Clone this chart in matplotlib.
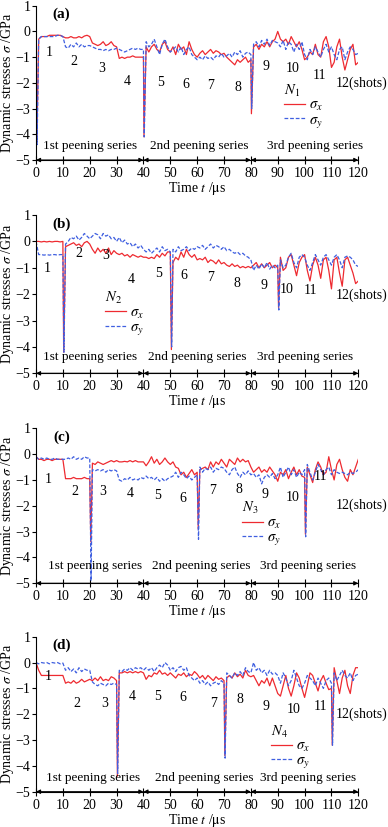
import numpy as np
import matplotlib
matplotlib.use("Agg")
import matplotlib.pyplot as plt

plt.rcParams['font.family'] = ['Liberation Serif', 'DejaVu Serif']
plt.rcParams['mathtext.fontset'] = 'stix'
plt.rcParams['axes.unicode_minus'] = True

RED = '#ee2a30'
BLUE = '#3f5fe0'

# time grid of the read-off samples (us)
t_grid = np.arange(0, 121)

# ---- panel (a), point N1 ----
a_sx = [0.0, -0.3, -0.2, -0.2, -0.2, -0.15, -0.15, -0.15, -0.15, -0.15,
        -0.2, -0.25, -0.25, -0.2, -0.25, -0.25, -0.2, -0.25, -0.18, -0.15,
        -0.2, -0.45, -0.5, -0.55, -0.5, -0.4, -0.55, -0.5, -0.4, -0.55,
        -0.6, -1.05, -1.0, -1.05, -1.0, -1.0, -0.95, -1.0, -1.0, -1.0,
        -1.0, -0.6, -0.8, -0.6, -0.5, -0.7, -0.8, -0.5, -0.4, -0.7,
        -0.8, -0.6, -0.9, -0.5, -0.7, -0.6, -0.9, -0.4, -0.7, -0.9,
        -1.0, -0.85, -0.75, -0.9, -0.8, -0.7, -0.85, -0.75, -0.8, -0.9,
        -0.85, -1.0, -1.1, -1.2, -1.3, -1.1, -1.2, -1.1, -1.0, -1.2,
        -1.1, -0.6, -0.5, -0.7, -0.5, -0.6, -0.4, -0.6, -0.4, -0.3,
        0.0, -0.3, -0.4, -0.3, -0.5, -0.2, -0.4, -0.6, -0.4, -0.7,
        -1.1, -1.0, -0.8, -0.9, -0.5, -0.9, -1.0, -0.4, -0.2, -0.6,
        -1.4, -1.2, -0.6, -0.3, -1.0, -1.5, -1.1, -0.7, -0.5, -1.3, -1.2]
a_sy = [0.0, -0.3, -0.2, -0.2, -0.2, -0.2, -0.2, -0.2, -0.15, -0.15,
        -0.2, -0.6, -0.65, -0.5, -0.6, -0.45, -0.6, -0.5, -0.6, -0.55,
        -0.55, -0.6, -0.65, -0.7, -0.7, -0.75, -0.7, -0.75, -0.7, -0.7,
        -0.65, -0.7, -0.75, -0.8, -0.75, -0.7, -0.65, -0.7, -0.65, -0.7,
        -0.7, -0.4, -0.6, -0.5, -0.3, -0.6, -0.9, -0.5, -0.3, -0.6,
        -0.8, -0.7, -0.6, -0.8, -0.6, -0.9, -0.7, -0.6, -0.9, -1.0,
        -1.1, -1.0, -1.1, -0.95, -1.05, -1.0, -1.1, -0.95, -1.0, -0.85,
        -1.0, -0.95, -0.85, -1.0, -0.8, -0.9, -0.75, -1.0, -0.85, -0.8,
        -0.9, -0.5, -0.4, -0.6, -0.35, -0.5, -0.3, -0.55, -0.35, -0.4,
        -0.45, -0.6, -0.35, -0.7, -0.4, -0.5, -0.8, -0.5, -0.7, -0.4,
        -0.9, -1.1, -0.7, -0.9, -0.6, -0.8, -1.0, -0.7, -0.5, -0.8,
        -0.6, -0.9, -1.1, -0.7, -0.6, -1.1, -0.8, -0.6, -0.7, -0.9, -0.85]
a_spike_t = [0.3, 40.2, 80.2]
a_spike_x = [-4.3, -4.1, -3.2]
a_spike_y = [-4.4, -4.1, -3.0]

# ---- panel (b), point N2 ----
b_sx = [0.0, 0.0, -0.02, 0.0, -0.02, 0.0, -0.02, 0.0, 0.0, -0.02,
        0.0, -0.2, -0.15, -0.1, -0.05, -0.15, -0.1, -0.2, -0.05, 0.0,
        -0.1, -0.3, -0.45, -0.25, -0.4, -0.3, -0.45, -0.25, -0.5, -0.35,
        -0.45, -0.5, -0.45, -0.55, -0.5, -0.6, -0.5, -0.55, -0.6, -0.55,
        -0.6, -0.6, -0.65, -0.6, -0.65, -0.5, -0.6, -0.45, -0.55, -0.4,
        -0.4, -0.8, -0.6, -0.7, -0.4, -0.6, -0.3, -0.5, -0.6, -0.5,
        -0.7, -0.65, -0.7, -0.6, -0.8, -0.7, -0.75, -0.85, -0.7, -0.85,
        -0.8, -0.9, -0.95, -0.85, -0.95, -0.9, -1.0, -0.95, -1.0, -0.95,
        -1.0, -0.9, -0.8, -1.0, -0.85, -1.0, -0.9, -0.8, -1.0, -0.9,
        -1.0, -0.6, -1.1, -1.0, -0.6, -0.5, -0.9, -1.3, -0.8, -0.6,
        -0.5, -1.1, -1.5, -0.9, -0.6, -0.9, -1.4, -0.7, -0.6, -1.1,
        -1.8, -0.7, -0.6, -1.2, -1.7, -0.7, -0.6, -0.9, -1.2, -1.6, -1.5]
b_sy = [0.0, -0.5, -0.5, -0.52, -0.5, -0.52, -0.5, -0.5, -0.52, -0.5,
        -0.5, -0.1, 0.0, 0.15, 0.1, 0.2, 0.05, 0.15, 0.3, 0.2,
        0.1, 0.2, 0.3, 0.25, 0.1, 0.3, 0.2, 0.25, 0.1, 0.15,
        0.0, 0.15, -0.05, 0.05, -0.1, -0.05, -0.2, -0.1, -0.25, -0.15,
        -0.3, -0.4, -0.3, -0.45, -0.35, -0.25, -0.4, -0.2, -0.35, -0.3,
        -0.4, -0.3, -0.4, -0.2, -0.35, -0.3, -0.2, -0.35, -0.25, -0.3,
        -0.2, -0.25, -0.15, -0.3, -0.2, -0.1, -0.25, -0.15, -0.2, -0.3,
        -0.2, -0.35, -0.3, -0.4, -0.45, -0.4, -0.5, -0.45, -0.55, -0.6,
        -0.7, -1.1, -0.9, -1.05, -0.85, -1.0, -0.8, -1.05, -0.9, -1.0,
        -0.9, -0.7, -1.0, -0.9, -0.6, -0.45, -0.8, -1.0, -0.6, -0.5,
        -0.6, -0.9, -1.1, -0.8, -0.5, -0.7, -0.9, -0.6, -0.5, -0.7,
        -0.9, -0.6, -0.5, -0.7, -1.0, -0.6, -0.55, -0.6, -0.7, -0.9, -0.95]
b_spike_t = [10.3, 50.4, 90.3]
b_spike_x = [-4.2, -4.1, -2.5]
b_spike_y = [-4.2, -4.0, -2.6]

# ---- panel (c), point N3 ----
c_sx = [-0.1, -0.2, -0.2, -0.25, -0.2, -0.2, -0.25, -0.2, -0.2, -0.2,
        -0.2, -0.95, -0.95, -0.95, -0.9, -0.95, -0.95, -0.95, -0.9, -0.95,
        -0.95, -0.35, -0.4, -0.3, -0.35, -0.4, -0.35, -0.3, -0.25, -0.3,
        -0.25, -0.3, -0.3, -0.28, -0.3, -0.25, -0.3, -0.25, -0.3, -0.3,
        -0.3, -0.45, -0.3, -0.1, -0.35, -0.2, -0.4, -0.3, -0.15, -0.3,
        -0.4, -0.3, -0.5, -0.55, -0.8, -0.7, -0.9, -0.75, -0.6, -0.8,
        -0.7, -0.6, -0.55, -0.5, -0.6, -0.3, -0.5, -0.3, -0.4, -0.2,
        -0.35, -0.5, -0.2, -0.3, -0.4, -0.15, -0.3, -0.2, -0.3, -0.25,
        -0.5, -0.7, -0.6, -0.5, -0.7, -0.6, -0.7, -0.5, -0.65, -0.8,
        -1.05, -0.7, -0.8, -0.6, -0.95, -0.7, -0.5, -0.8, -0.6, -0.85,
        -0.9, -0.5, -0.8, -1.1, -0.6, -0.3, -0.5, -0.8, -0.7, -0.1,
        -0.6, -1.0, -0.4, -0.2, -0.6, -0.9, -1.05, -0.6, -0.8, -0.5, -0.2]
c_sy = [-0.1, -0.2, -0.15, -0.2, -0.15, -0.2, -0.2, -0.15, -0.2, -0.2,
        -0.2, -0.2, -0.15, -0.2, -0.1, -0.2, -0.15, -0.2, -0.1, -0.15,
        -0.15, -0.6, -0.65, -0.6, -0.65, -0.6, -0.7, -0.6, -0.65, -0.6,
        -0.65, -1.0, -1.05, -0.95, -1.0, -0.9, -1.0, -0.95, -1.0, -0.9,
        -0.95, -0.85, -0.95, -0.9, -1.0, -0.9, -1.05, -0.95, -1.05, -0.95,
        -0.9, -0.85, -0.7, -0.9, -0.7, -0.8, -0.95, -0.85, -1.0, -0.9,
        -0.8, -0.5, -0.7, -0.55, -0.6, -0.5, -0.7, -0.55, -0.6, -0.5,
        -0.55, -0.7, -0.8, -0.6, -0.5, -0.75, -0.9, -0.7, -0.8, -0.65,
        -0.8, -0.75, -0.9, -0.8, -1.15, -0.9, -0.8, -0.9, -0.75, -0.95,
        -0.8, -0.5, -0.9, -0.7, -0.5, -0.8, -0.6, -0.9, -0.7, -0.8,
        -0.6, -0.4, -0.7, -1.0, -0.7, -0.4, -0.6, -0.8, -0.6, -0.5,
        -0.8, -0.6, -0.7, -0.75, -0.7, -0.75, -0.8, -0.7, -0.75, -0.7, -0.6]
c_spike_t = [20.4, 60.4, 100.3]
c_spike_x = [-3.4, -2.9, -3.1]
c_spike_y = [-4.9, -3.3, -3.2]

# ---- panel (d), point N4 ----
d_sx = [0.0, -0.3, -0.5, -0.5, -0.5, -0.5, -0.5, -0.5, -0.5, -0.5,
        -0.5, -0.8, -0.75, -0.8, -0.7, -0.8, -0.75, -0.65, -0.75, -0.7,
        -0.65, -0.7, -0.6, -0.7, -0.55, -0.7, -0.65, -0.7, -0.55, -0.6,
        -0.7, -0.4, -0.4, -0.35, -0.4, -0.35, -0.4, -0.35, -0.4, -0.35,
        -0.4, -0.65, -0.5, -0.55, -0.4, -0.45, -0.3, -0.45, -0.4, -0.5,
        -0.4, -0.5, -0.6, -0.45, -0.5, -0.4, -0.55, -0.45, -0.5, -0.35,
        -0.45, -0.6, -0.5, -0.65, -0.5, -0.6, -0.7, -0.55, -0.65, -0.6,
        -0.7, -0.6, -0.5, -0.6, -0.4, -0.55, -0.45, -0.6, -0.3, -0.5,
        -0.55, -0.5, -0.7, -0.9, -0.7, -0.8, -0.6, -0.9, -0.6, -0.9,
        -1.2, -1.3, -0.9, -0.5, -1.0, -1.3, -0.9, -0.4, -0.6, -1.0,
        -1.35, -0.9, -0.4, -0.5, -0.8, -1.1, -0.7, -0.5, -0.8, -1.05,
        -1.0, -0.2, -0.7, -1.2, -0.6, -0.3, -0.9, -1.2, -0.5, -0.2, -0.2]
d_sy = [0.0, -0.05, 0.0, -0.02, 0.0, -0.05, 0.0, -0.02, 0.0, -0.05,
        -0.02, -0.3, -0.2, -0.35, -0.25, -0.4, -0.2, -0.35, -0.25, -0.3,
        -0.3, -0.75, -0.85, -0.9, -0.8, -0.85, -0.9, -0.8, -0.85, -0.8,
        -0.85, -0.3, -0.35, -0.25, -0.3, -0.2, -0.3, -0.2, -0.25, -0.2,
        -0.3, -0.2, -0.3, -0.2, -0.35, -0.2, -0.1, -0.2, 0.0, -0.1,
        -0.3, -0.2, -0.35, -0.2, -0.15, -0.3, -0.2, -0.5, -0.6, -0.7,
        -0.6, -0.8, -0.7, -0.85, -0.75, -0.9, -0.8, -0.75, -0.85, -0.7,
        -0.8, -0.4, -0.5, -0.6, -0.4, -0.5, -0.35, -0.5, -0.2, -0.35,
        -0.4, 0.0, -0.3, -0.2, -0.4, -0.3, -0.5, -0.3, -0.45, -0.4,
        -0.5, -0.8, -0.4, -0.6, -0.9, -0.7, -0.3, -0.6, -0.9, -1.0,
        -0.8, -0.5, -0.6, -0.7, -0.9, -0.6, -0.8, -1.0, -0.7, -0.6,
        -0.8, -0.4, -0.7, -0.5, -0.3, -0.5, -0.6, -0.4, -0.7, -0.5, -0.45]
d_spike_t = [30.3, 70.3, 110.3]
d_spike_x = [-4.4, -3.6, -3.2]
d_spike_y = [-4.3, -3.7, -3.2]

# shot numbers and where they sit (t, sigma)
shot_text = ['1', '2', '3', '4', '5', '6', '7', '8', '9', '10', '11', '12(shots)']
a_shot_t = [5, 14.1, 24.4, 34.1, 46.5, 55.7, 65.1, 75, 85.5, 95.5, 105.7, 121.3]
a_shot_s = [-0.8, -1.18, -1.44, -1.96, -2.0, -2.08, -2.12, -2.18, -1.37, -1.44, -1.7, -2.0]
b_shot_t = [4, 16, 26, 35.4, 45.7, 55.2, 65.1, 74.7, 85, 93.5, 102.2, 121.3]
b_shot_s = [-1.02, -0.45, -0.52, -1.46, -1.21, -1.31, -1.36, -1.59, -1.69, -1.82, -1.87, -2.03]
c_shot_t = [4.6, 14.5, 25, 35, 45.3, 54.6, 65.8, 75.7, 85.2, 95.5, 106, 121.3]
c_shot_s = [-0.97, -1.45, -1.45, -1.52, -1.62, -1.71, -1.41, -1.36, -1.58, -1.67, -0.87, -1.97]
d_shot_t = [4.6, 15.4, 25.7, 36, 45.2, 54.6, 66, 75.9, 85.5, 95.8, 106, 121.3]
d_shot_s = [-0.55, -1.58, -1.58, -1.32, -1.32, -1.36, -1.58, -1.45, -1.71, -1.8, -1.71, -2.0]

series_text = ['1st peening series', '2nd peening series', '3rd peening series']
a_series_t = [20.3, 60.8, 104]
b_series_t = [20, 60, 100.3]
c_series_t = [22, 61.7, 101.4]
d_series_t = [21.3, 62.5, 101.4]
series_bounds = [0, 40, 80, 120]
y_ticks = [-5, -4, -3, -2, -1, 0, 1]

panels = [
    dict(tag='(a)', N='1', sx=a_sx, sy=a_sy, st=a_spike_t, spx=a_spike_x, spy=a_spike_y,
         shot_t=a_shot_t, shot_s=a_shot_s, ser_t=a_series_t, ser_y=-4.44,
         rect=[0.0928, 0.8065, 0.8307, 0.1866], leg=(0.77, 0.5)),
    dict(tag='(b)', N='2', sx=b_sx, sy=b_sy, st=b_spike_t, spx=b_spike_x, spy=b_spike_y,
         shot_t=b_shot_t, shot_s=b_shot_s, ser_t=b_series_t, ser_y=-4.37,
         rect=[0.0928, 0.5486, 0.8307, 0.1914], leg=(0.215, 0.525)),
    dict(tag='(c)', N='3', sx=c_sx, sy=c_sy, st=c_spike_t, spx=c_spike_x, spy=c_spike_y,
         shot_t=c_shot_t, shot_s=c_shot_s, ser_t=c_series_t, ser_y=-4.35,
         rect=[0.0928, 0.2947, 0.8307, 0.1874], leg=(0.64, 0.535)),
    dict(tag='(d)', N='4', sx=d_sx, sy=d_sy, st=d_spike_t, spx=d_spike_x, spy=d_spike_y,
         shot_t=d_shot_t, shot_s=d_shot_s, ser_t=d_series_t, ser_y=-4.48,
         rect=[0.0928, 0.0427, 0.8307, 0.1874], leg=(0.73, 0.44)),
]


def with_spikes(t, v, st, sv):
    tt = np.concatenate([t, st])
    vv = np.concatenate([v, sv])
    order = np.argsort(tt, kind='stable')
    return tt[order], vv[order]


fig = plt.figure(figsize=(3.88, 8.27), dpi=100)
FS = 10

for p in panels:
    ax = fig.add_axes(p['rect'])
    tx, vx = with_spikes(t_grid, np.array(p['sx']), np.array(p['st']), np.array(p['spx']))
    ty, vy = with_spikes(t_grid, np.array(p['sy']), np.array(p['st']) + 0.1, np.array(p['spy']))
    ax.plot(tx, vx, color=RED, lw=0.9, label=r'$\sigma_x$')
    ax.plot(ty, vy, color=BLUE, lw=0.9, ls=(0, (3, 1.5)), label=r'$\sigma_y$')

    ax.set_xlim(0, 120)
    ax.set_ylim(-5, 1)
    ax.set_xticks(np.arange(0, 121, 10))
    ax.set_yticks(y_ticks)
    ax.set_yticklabels([str(v).replace('-', '\u2212') for v in y_ticks])
    ax.spines['top'].set_visible(False)
    ax.spines['right'].set_visible(False)
    ax.tick_params(axis='x', direction='inout', length=6, width=0.8, labelsize=FS, pad=2)
    ax.tick_params(axis='y', direction='out', length=3, width=0.8, labelsize=FS, pad=1)
    ax.set_xlabel(r'Time $t$ /$\mathrm{\mu}$s', fontsize=FS, labelpad=0)
    ax.set_ylabel(r'Dynamic stresses $\sigma$ /GPa', fontsize=FS, labelpad=0)

    ax.text(9.5, 0.65, p['tag'], fontsize=FS + 1, fontweight='bold', ha='center', va='center')

    for s, x, y in zip(shot_text, p['shot_t'], p['shot_s']):
        ax.text(x, y, s, fontsize=FS, ha='center', va='center', clip_on=False)

    for s, x in zip(series_text, p['ser_t']):
        ax.text(x, p['ser_y'], s, fontsize=9.5, ha='center', va='center')

    for x0, x1 in zip(series_bounds[:-1], series_bounds[1:]):
        ax.annotate('', xy=(x1, -5), xytext=(x0, -5), annotation_clip=False,
                    arrowprops=dict(arrowstyle='<|-|>', color='black', lw=0.8,
                                    mutation_scale=6, shrinkA=0, shrinkB=0))

    ax.legend(title=r'$N_{%s}$' % p['N'], loc='upper left', bbox_to_anchor=p['leg'],
              frameon=False, fontsize=10.5, title_fontsize=10.5, alignment='left',
              handlelength=1.4, handletextpad=0.3, labelspacing=0.0, borderpad=0,
              borderaxespad=0)

fig.savefig('out.png', dpi=100)
